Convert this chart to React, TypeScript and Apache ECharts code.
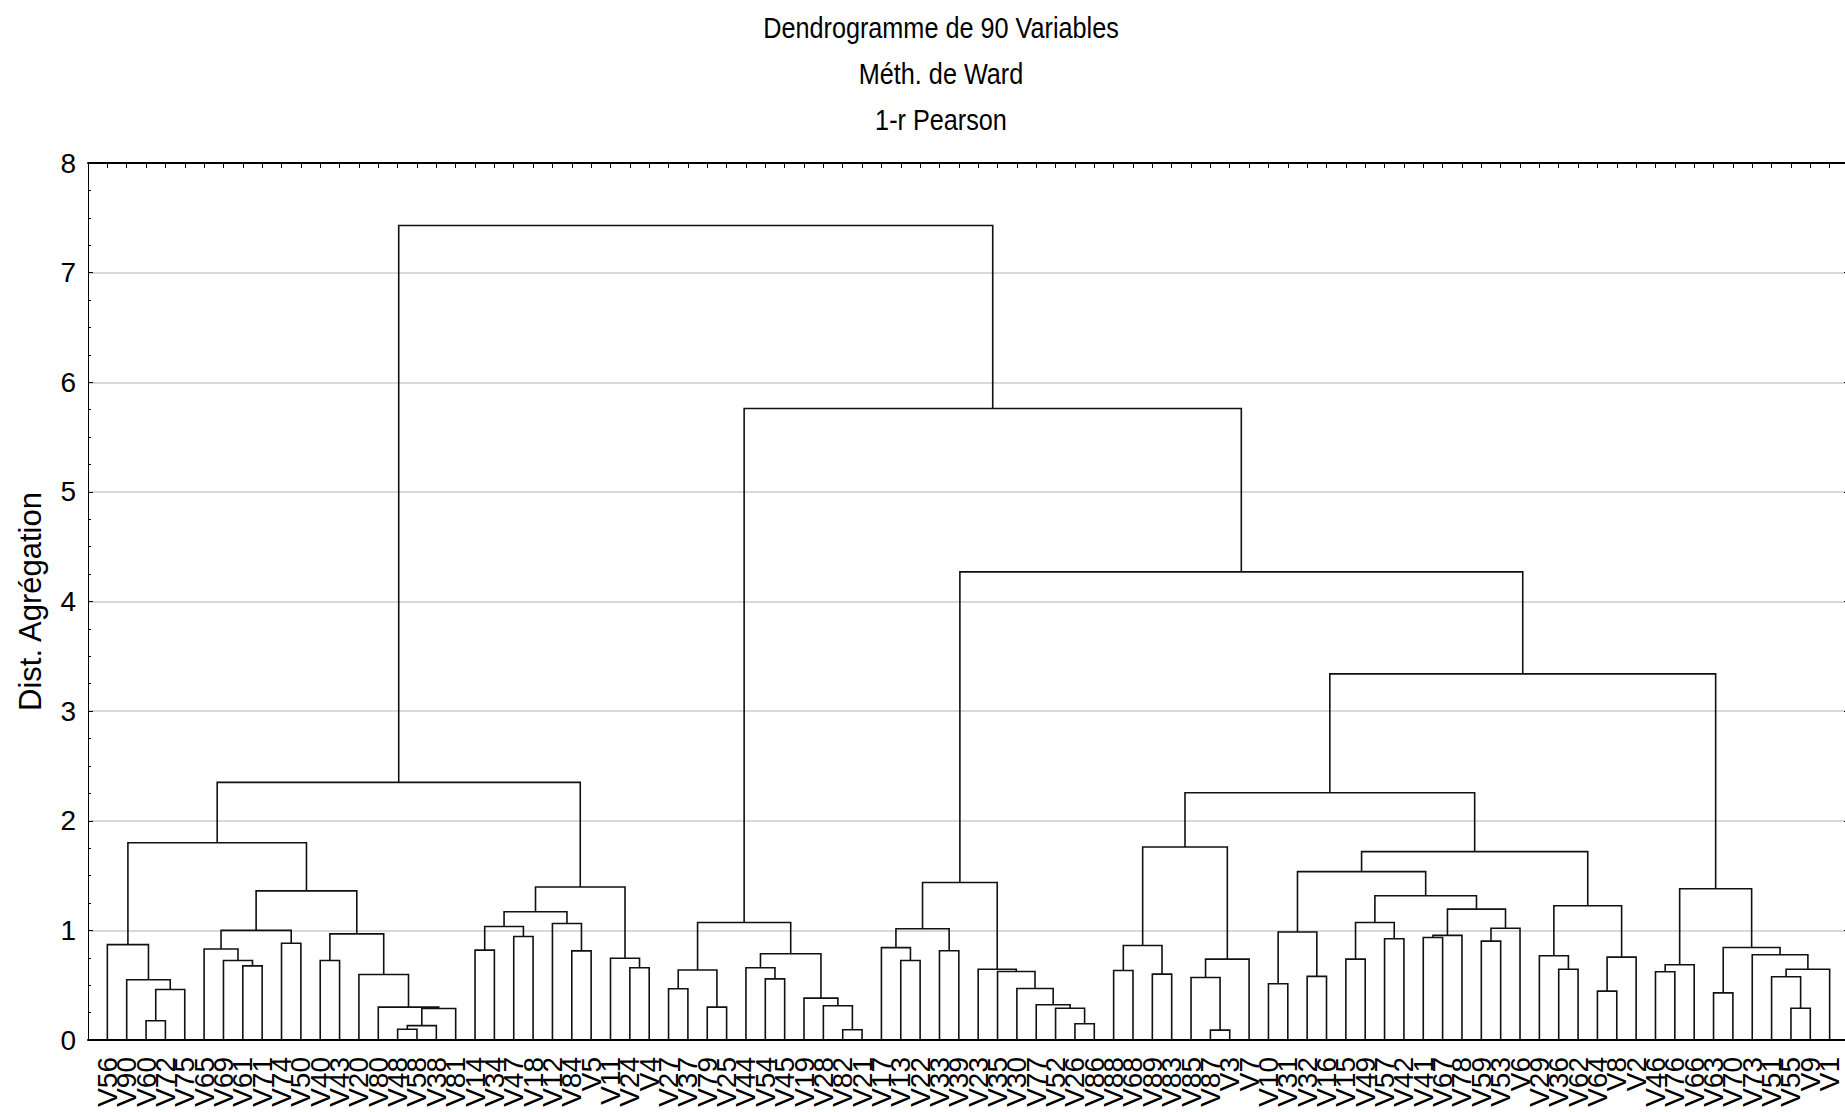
import React, { useEffect, useRef } from "react";
import * as echarts from "echarts";

const titleLines = ["Dendrogramme de 90 Variables", "Méth. de Ward", "1-r Pearson"];
const yAxisName = "Dist. Agrégation";
const yMin = 0;
const yMax = 8;

// leaf labels, in dendrogram order (left to right)
const leafLabels = [
  "V56", "V90", "V60", "V72", "V75", "V65", "V69", "V61", "V71", "V74",
  "V50", "V40", "V43", "V20", "V80", "V48", "V58", "V38", "V81", "V14",
  "V34", "V47", "V18", "V12", "V84", "V5", "V11", "V24", "V4", "V27",
  "V37", "V79", "V25", "V44", "V54", "V45", "V19", "V28", "V82", "V21",
  "V17", "V13", "V22", "V33", "V39", "V23", "V35", "V30", "V77", "V52",
  "V26", "V86", "V88", "V68", "V89", "V83", "V85", "V87", "V3", "V7",
  "V10", "V31", "V32", "V16", "V15", "V49", "V57", "V42", "V41", "V67",
  "V78", "V59", "V53", "V6", "V29", "V36", "V62", "V64", "V8", "V2",
  "V46", "V76", "V66", "V63", "V70", "V73", "V51", "V55", "V9", "V1",
];

// merges: positive = leaf position (1-based), negative = earlier merge number
const mergeLeft = [
  3, -1, 2, 1, 8, 7, 6, 10, -7, 12,
  16, -11, -12, 15, 14, -10, -9, -4, 20, 22,
  -19, 25, 24, -21, 28, 27, -24, -18, 30, 32,
  -29, 35, 34, 39, 38, 37, -33, -31, 42, 41,
  44, -40, 51, 50, 49, 48, 47, 46, -42, 53,
  55, -50, 58, 57, -54, -52, 61, 63, -57, 65,
  67, -60, 69, -63, 72, -65, -64, -62, -59, 76,
  75, 78, -72, -71, -69, 81, -76, 84, 88, 87,
  -80, 86, -78, -77, -56, -85, -49, -38, -28,
];
const mergeRight = [
  4, 5, -2, -3, 9, -5, -6, 11, -8, 13,
  17, 18, 19, -13, -14, -15, -16, -17, 21, 23,
  -20, 26, -22, -23, 29, -25, -26, -27, 31, 33,
  -30, 36, -32, 40, -34, -35, -36, -37, 43, -39,
  45, -41, 52, -43, -44, -45, -46, -47, -48, 54,
  56, -51, 59, -53, 60, -55, 62, 64, -58, 66,
  68, -61, 70, 71, 73, 74, -66, -67, -68, 77,
  -70, 79, 80, -73, -74, 82, 83, 85, 89, -79,
  90, -81, -82, -83, -75, -84, -86, -87, -88,
];
const mergeHeight = [
  0.175, 0.46, 0.55, 0.87, 0.676, 0.725, 0.83, 0.883, 1.0, 0.725,
  0.098, 0.131, 0.288, 0.3, 0.597, 0.968, 1.36, 1.8, 0.82, 0.944,
  1.036, 0.813, 1.063, 1.17, 0.659, 0.746, 1.395, 2.35, 0.467, 0.3,
  0.638, 0.558, 0.659, 0.093, 0.312, 0.382, 0.787, 1.072, 0.725, 0.843,
  0.814, 1.015, 0.148, 0.29, 0.321, 0.47, 0.625, 0.646, 1.437, 0.634,
  0.601, 0.862, 0.09, 0.57, 0.738, 1.76, 0.513, 0.58, 0.985, 0.738,
  0.923, 1.072, 0.935, 0.954, 0.902, 1.02, 1.194, 1.316, 1.536, 0.646,
  0.768, 0.446, 0.756, 1.224, 1.718, 0.623, 0.686, 0.43, 0.29, 0.577,
  0.646, 0.777, 0.844, 1.38, 2.255, 3.34, 4.27, 5.76, 7.43,
];

function buildSegments() {
  const nodeX: number[] = [];
  const nodeY: number[] = [];
  const pos = (ref: number): [number, number] =>
    ref > 0 ? [ref, 0] : [nodeX[-ref - 1], nodeY[-ref - 1]];
  const segs: number[][] = [];
  for (let k = 0; k < mergeLeft.length; k++) {
    const [xl, yl] = pos(mergeLeft[k]);
    const [xr, yr] = pos(mergeRight[k]);
    const h = mergeHeight[k];
    nodeX[k] = (xl + xr) / 2;
    nodeY[k] = h;
    segs.push([xl, yl, xr, yr, h]);
  }
  return segs;
}

const FONT = "'Liberation Sans', Arial, Helvetica, sans-serif";

export default function App() {
  const ref = useRef<HTMLDivElement>(null);
  useEffect(() => {
    if (!ref.current) return;
    const chart = echarts.init(ref.current, null, { renderer: "svg" });
    const segs = buildSegments();
    const n = leafLabels.length;
    const xCommon = {
      type: "value" as const,
      min: 0,
      max: n + 1,
      interval: 1,
      splitLine: { show: false },
    };
    const yCommon = {
      type: "value" as const,
      min: yMin,
      max: yMax,
      interval: 1,
    };
    chart.setOption({
      animation: false,
      backgroundColor: "#ffffff",
      textStyle: { fontFamily: FONT, color: "#000" },
      grid: {
        left: 88,
        right: -4,
        top: 163,
        bottom: 72,
        containLabel: false,
        outerBoundsMode: "none",
      },
      graphic: titleLines.map((t, i) => ({
        type: "text",
        x: 941,
        y: [28, 74, 120][i],
        scaleX: 0.87,
        style: {
          text: t,
          fontSize: 29,
          fontFamily: FONT,
          fill: "#000",
          align: "center",
          verticalAlign: "middle",
        },
      })),
      xAxis: [
        {
          ...xCommon,
          position: "bottom",
          axisLine: { show: true, onZero: false, lineStyle: { color: "#000", width: 2 } },
          axisTick: { show: false },
          axisLabel: {
            rotate: 90,
            fontSize: 28,
            color: "#000",
            fontFamily: FONT,
            margin: 17,
            showMinLabel: true,
            showMaxLabel: true,
            formatter: (v: number) => {
              const i = Math.round(v);
              return i >= 1 && i <= n ? leafLabels[i - 1] : "";
            },
          },
        },
        {
          ...xCommon,
          position: "top",
          axisLine: { show: true, onZero: false, lineStyle: { color: "#000", width: 2 } },
          axisTick: { show: true, inside: true, length: 5, lineStyle: { color: "#000", width: 1 } },
          axisLabel: { show: false },
        },
      ],
      yAxis: [
        {
          ...yCommon,
          position: "left",
          name: yAxisName,
          nameLocation: "middle",
          nameGap: 42,
          nameTextStyle: { fontSize: 31, color: "#000", fontFamily: FONT },
          axisLine: { show: true, onZero: false, lineStyle: { color: "#000", width: 1 } },
          axisTick: { show: true, inside: true, length: 5, lineStyle: { color: "#000" } },
          minorTick: { show: true, splitNumber: 4, length: 3, lineStyle: { color: "#000" } },
          axisLabel: { fontSize: 28, color: "#000", fontFamily: FONT, margin: 12 },
          splitLine: { show: true, lineStyle: { color: "#d9d9d9", width: 2 } },
        },
        {
          ...yCommon,
          position: "right",
          axisLine: { show: true, onZero: false, lineStyle: { color: "#000", width: 1 } },
          axisTick: { show: true, inside: true, length: 5, lineStyle: { color: "#000" } },
          minorTick: { show: true, splitNumber: 4, length: 3, lineStyle: { color: "#000" } },
          axisLabel: { show: false },
          splitLine: { show: false },
        },
      ],
      series: [
        {
          type: "custom",
          xAxisIndex: 0,
          yAxisIndex: 0,
          silent: true,
          z: 5,
          data: segs,
          encode: { x: [0, 2], y: [1, 3, 4] },
          renderItem: (_params: any, api: any) => {
            const p1 = api.coord([api.value(0), api.value(1)]);
            const p2 = api.coord([api.value(0), api.value(4)]);
            const p3 = api.coord([api.value(2), api.value(4)]);
            const p4 = api.coord([api.value(2), api.value(3)]);
            return {
              type: "polyline",
              shape: { points: [p1, p2, p3, p4] },
              style: { stroke: "#111", lineWidth: 1.6, fill: null },
            };
          },
        },
      ],
    });
    return () => chart.dispose();
  }, []);
  return (
    <div
      ref={ref}
      style={{ position: "absolute", left: 0, top: 0, width: 1845, height: 1112, background: "#fff" }}
    />
  );
}
